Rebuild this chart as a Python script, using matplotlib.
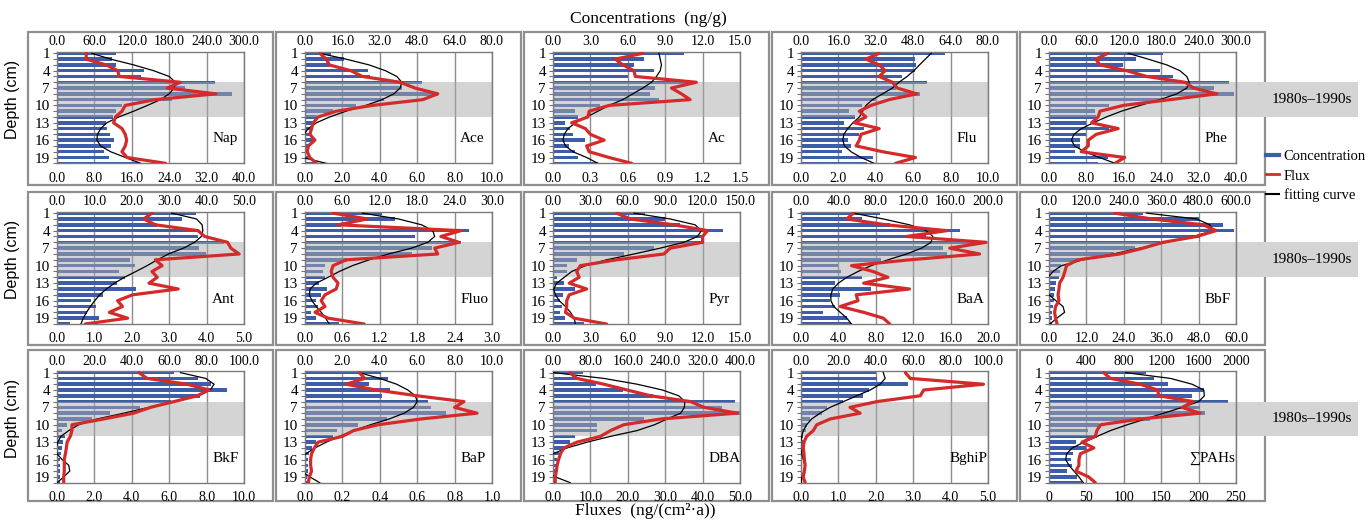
import numpy as np
import matplotlib
matplotlib.use('Agg')
from matplotlib import pyplot as plt
from matplotlib.lines import Line2D
from matplotlib.patches import Rectangle
from matplotlib.ticker import FormatStrFormatter
from matplotlib.transforms import blended_transform_factory

plt.rcParams['font.family'] = ['Liberation Serif', 'DejaVu Serif']

depth = np.arange(1, 21)

names = ['Nap', 'Ace', 'Ac', 'Flu', 'Phe', 'Ant', 'Fluo', 'Pyr', 'BaA', 'BbF',
         'BkF', 'BaP', 'DBA', 'BghiP', '∑PAHs']
conc_max = [300, 80, 15, 80, 300, 50, 30, 150, 200, 600, 100, 10, 400, 100, 2000]
flux_max = [40, 10, 1.5, 10, 40, 5, 3, 15, 20, 60, 10, 1, 50, 5, 250]

# concentration (ng/g), fitting curve (ng/g), flux (ng/(cm2 a)) for depth 1..20 cm
nap_conc = [95, 89, 95, 140, 135, 254, 205, 281, 185, 104, 95, 90, 78, 80, 85, 91, 87, 76, 83, 133]
nap_fit = [56, 86, 123, 155, 180, 190, 188, 180, 166, 145, 123, 99, 80, 70, 65, 64, 70, 86, 110, 134]
nap_flux = [6.3, 6.2, 10.5, 13.0, 13.3, 26.4, 23.6, 34.0, 21.0, 14.6, 13.9, 12.5, 12.1, 13.9, 14.6, 14.9, 14.6, 13.9, 15.0, 23.2]

ace_conc = [11.2, 16.8, 10.5, 27.1, 27.7, 50.1, 41.4, 57.1, 34.0, 22.0, 12.0, 5.3, 2.8, 2.8, 1.8, 3.5, 1.4, 1.4, 1.4, 4.2]
ace_fit = [6.3, 17.5, 27.4, 34.4, 39.3, 41.4, 40.7, 38.0, 33.0, 26.0, 17.5, 10.5, 4.9, 1.4, -0.5, -3.0, -3.5, -2.5, -1.0, 9.0]
ace_flux = [0.79, 1.14, 1.3, 2.45, 3.07, 5.09, 5.88, 7.1, 6.3, 3.6, 1.67, 0.7, 0.44, 0.35, 0.26, 0.53, 0.18, 0.12, 0.26, 0.61]

ac_conc = [10.5, 7.3, 6.5, 8.1, 6.0, 11.4, 8.2, 7.8, 8.5, 3.8, 1.8, 2.0, 1.0, 1.4, 1.6, 2.6, 1.3, 1.8, 2.0, 3.6]
ac_fit = [8.5, 8.6, 8.7, 8.6, 8.3, 7.9, 7.2, 6.4, 5.6, 4.5, 3.6, 2.7, 1.8, 1.2, 0.9, 0.8, 1.0, 1.6, 2.7, 3.6]
ac_flux = [0.72, 0.5, 0.56, 0.65, 0.66, 1.15, 0.95, 1.03, 1.1, 0.45, 0.29, 0.28, 0.15, 0.26, 0.3, 0.41, 0.27, 0.29, 0.45, 0.63]

flu_conc = [61.7, 48.7, 49.2, 48.7, 43.0, 53.9, 40.5, 50.8, 32.0, 26.1, 20.5, 22.9, 18.3, 27.1, 25.0, 20.0, 21.4, 17.5, 30.6, 28.1]
flu_fit = [55.7, 53.2, 50.7, 48.3, 45.4, 41.9, 39.1, 34.9, 30.6, 27.8, 26.4, 25.0, 22.2, 20.0, 18.3, 17.9, 18.6, 21.4, 25.7, 31.3]
flu_flux = [4.18, 3.47, 4.18, 4.5, 4.18, 4.89, 5.15, 6.2, 4.71, 3.74, 3.12, 3.47, 2.86, 4.18, 3.21, 3.12, 2.95, 4.36, 6.12, 5.06]

phe_conc = [183, 139, 118, 178, 199, 288, 264, 297, 183, 97, 73, 76, 59, 97, 60, 49, 49, 41, 94, 79]
phe_fit = [127, 159, 189, 210, 221, 225, 221, 205, 178, 146, 116, 92, 71, 52, 40, 36, 41, 57, 81, 106]
phe_flux = [12.6, 10.0, 10.9, 16.6, 20.9, 29.1, 30.9, 35.9, 25.9, 15.9, 10.9, 10.5, 9.1, 14.8, 10.1, 8.4, 8.4, 6.9, 16.2, 14.1]

ant_conc = [37.1, 33.3, 26.8, 37.9, 37.7, 44.7, 37.9, 39.9, 19.5, 20.8, 16.7, 18.2, 16.0, 21.1, 12.3, 9.2, 10.5, 7.9, 11.1, 3.5]
ant_fit = [30.7, 37.3, 38.8, 39.0, 38.6, 36.8, 33.8, 29.8, 26.8, 24.1, 21.1, 18.0, 15.4, 13.2, 11.4, 10.1, 8.9, 7.9, 7.0, 6.4]
ant_flux = [2.54, 2.32, 2.63, 3.77, 3.95, 4.56, 4.65, 4.87, 2.63, 2.81, 2.54, 2.68, 2.46, 3.24, 2.02, 1.62, 1.75, 1.40, 1.89, 0.75]

fluo_conc = [12.3, 14.5, 5.8, 26.3, 17.6, 25.0, 20.3, 17.1, 6.8, 3.2, 2.9, 3.2, 2.2, 3.6, 2.5, 1.7, 2.1, 0.9, 1.8, 5.5]
fluo_fit = [9.2, 15.0, 18.7, 20.5, 20.8, 19.7, 17.1, 13.4, 10.3, 7.6, 5.5, 3.7, 1.8, 0.8, 0.7, 1.1, 1.8, 2.6, 3.3, 3.9]
fluo_flux = [0.45, 1.0, 0.53, 2.5, 2.18, 2.47, 2.08, 2.13, 0.66, 0.45, 0.42, 0.45, 0.53, 0.5, 0.32, 0.26, 0.32, 0.16, 0.37, 0.95]

pyr_conc = [74, 90, 102, 136, 121, 121, 81, 57, 19, 11, 11, 3, 9, 18, 8, 6, 7, 6, 10, 25]
pyr_fit = [65, 94, 114, 119, 116, 105, 86, 65, 43, 26, 15, 9, 3, 0.5, 2, 5, 10, 14, 17, 18]
pyr_flux = [5.1, 6.2, 9.7, 12.4, 12.0, 12.0, 9.4, 8.9, 5.1, 2.2, 1.9, 2.1, 1.3, 2.7, 1.3, 1.1, 1.1, 1.0, 1.7, 4.3]

baa_conc = [85, 65, 95, 170, 134, 198, 152, 156, 86, 40, 43, 65, 36, 75, 42, 31, 36, 23, 49, 54]
baa_fit = [56, 88, 116, 134, 141, 139, 129, 113, 93, 75, 61, 49, 40, 34, 32, 32, 35, 42, 49, 54]
baa_flux = [5.6, 4.9, 9.1, 15.6, 11.3, 19.8, 15.9, 19.1, 11.6, 5.4, 7.7, 9.3, 6.7, 11.6, 5.9, 6.1, 4.2, 6.7, 8.8, 9.5]

bbf_conc = [302, 480, 559, 595, 484, 356, 275, 209, 93, 40, 34, 32, 21, 18, 15, 15, 13, 11, 11, 11]
bbf_fit = [313, 474, 516, 527, 463, 377, 291, 206, 109, 40, 13, -3, -15, -10, 0, 22, 45, 50, 25, 3]
bbf_flux = [21.1, 33.0, 49.5, 53.6, 47.4, 36.6, 30.2, 22.7, 9.3, 5.6, 5.1, 4.5, 3.4, 3.2, 2.9, 3.2, 2.1, 1.8, 2.1, 2.6]

bkf_conc = [62.5, 75.4, 82.5, 91.1, 76.4, 60.7, 44.6, 28.6, 18.8, 5.4, 2.7, 4.5, 3.2, 2.7, 2.3, 1.8, 1.8, 1.4, 1.4, 1.4]
bkf_fit = [66, 79.5, 84, 82, 75, 62.5, 49, 35.7, 21.4, 11.6, 6.3, 2.1, 0.4, -0.4, 0, 2.7, 6.3, 6.8, 3.6, 0]
bkf_flux = [4.38, 4.82, 6.96, 8.13, 7.5, 6.25, 5.0, 4.1, 2.5, 0.8, 0.8, 0.71, 0.54, 0.5, 0.45, 0.39, 0.39, 0.39, 0.36, 0.36]

bap_conc = [4.07, 4.44, 3.4, 4.56, 4.1, 6.6, 6.75, 7.54, 4.4, 2.86, 1.72, 1.49, 0.58, 0.39, 0.23, 0.18, 0.18, 0.18, 0.12, 0.09]
bap_fit = [2.9, 4.0, 4.9, 5.5, 5.9, 6.0, 5.8, 5.3, 4.5, 3.5, 2.6, 1.84, 1.14, 0.53, 0.05, -0.3, -0.4, -0.2, 0.26, 0.79]
bap_flux = [0.29, 0.32, 0.22, 0.38, 0.6, 0.85, 0.8, 0.92, 0.62, 0.39, 0.26, 0.2, 0.07, 0.05, 0.035, 0.03, 0.03, 0.035, 0.023, 0.018]

dba_conc = [64, 55, 93, 149, 214, 389, 362, 400, 194, 94, 94, 46, 37, 24, 12, 9, 9, 7, 5, 4]
dba_fit = [1, 109, 180, 234, 269, 282, 281, 273, 244, 217, 180, 123, 73, 30, 0, -13, -20, -13, 5, 37]
dba_flux = [4.5, 6.4, 13.6, 19.8, 26.1, 36.8, 40.4, 49.3, 28.8, 18.9, 15.4, 12.7, 6.4, 2.9, 2.0, 1.5, 1.1, 0.9, 0.6, 0.6]

bghip_conc = [40.2, 40.5, 57.1, 36.6, 33.4, 22.7, 14.1, 11.1, 4.8, 3.0, 2.7, 1.25, 0.9, 0.5, 0.4, 0.4, 0.4, 0.4, 0.4, 0.4]
bghip_fit = [44, 45, 42.3, 37, 29.8, 22.7, 15.5, 10.2, 5.7, 3.0, 1.25, 0.4, -0.2, -0.2, 0.4, 1.25, 2.1, 1.6, 0.5, 0]
bghip_flux = [2.79, 2.92, 4.88, 3.28, 3.19, 2.03, 1.31, 1.58, 0.78, 0.42, 0.33, 0.15, 0.08, 0.06, 0.08, 0.09, 0.11, 0.09, 0.06, 0.11]

pahs_conc = [1039, 1128, 1274, 1662, 1530, 1911, 1619, 1673, 1085, 534, 416, 516, 285, 391, 260, 238, 242, 196, 302, 356]
pahs_fit = [819, 1299, 1530, 1655, 1662, 1602, 1424, 1228, 1032, 836, 658, 516, 374, 249, 189, 178, 214, 267, 320, 367]
pahs_flux = [73, 82, 122, 145, 147, 193, 178, 202, 122, 69, 64, 62, 44, 60, 42, 40, 40, 36, 53, 62]

conc_all = [nap_conc, ace_conc, ac_conc, flu_conc, phe_conc, ant_conc, fluo_conc, pyr_conc,
            baa_conc, bbf_conc, bkf_conc, bap_conc, dba_conc, bghip_conc, pahs_conc]
fit_all = [nap_fit, ace_fit, ac_fit, flu_fit, phe_fit, ant_fit, fluo_fit, pyr_fit,
           baa_fit, bbf_fit, bkf_fit, bap_fit, dba_fit, bghip_fit, pahs_fit]
flux_all = [nap_flux, ace_flux, ac_flux, flu_flux, phe_flux, ant_flux, fluo_flux, pyr_flux,
            baa_flux, bbf_flux, bkf_flux, bap_flux, dba_flux, bghip_flux, pahs_flux]

band = (6, 12)  # 1980s-1990s layer

blueColor = '#3d5dab'
redColor = '#d42a2a'
gridColor = '#8c8c8c'
frameColor = '#8f8f8f'

W, H = 1370, 520
fig = plt.figure(figsize=(W / 100, H / 100), dpi=100)

colLeft = [57, 305, 553, 801, 1049]
axW = 187
rowSpan = [(51.7, 163.3), (211.5, 324.0), (371.0, 482.7)]
frameSpan = [(32, 185), (192, 345), (350, 501)]

for r in range(3):
    for c in range(5):
        x0 = colLeft[c] - 29
        top, bot = frameSpan[r]
        fig.patches.append(Rectangle((x0 / W, 1 - bot / H), (axW + 58) / W, (bot - top) / H,
                                     transform=fig.transFigure, fill=False, ec=frameColor,
                                     lw=1.6, zorder=-1))

for i, name in enumerate(names):
    r, c = divmod(i, 5)
    top, bot = rowSpan[r]
    ax = fig.add_axes([colLeft[c] / W, 1 - bot / H, axW / W, (bot - top) / H])

    ax.barh(depth, conc_all[i], height=0.6, color=blueColor, zorder=2)
    ax.axhspan(band[0], band[1], color='#aaaaaa', alpha=0.5, lw=0, zorder=2.5)
    ax.plot(fit_all[i], depth, color='k', lw=0.9, zorder=3)
    ax.set_xlim(0, conc_max[i])
    ax.set_ylim(20, 0.72)
    ax.grid(axis='x', color=gridColor, lw=1.0)
    ax.set_axisbelow(True)
    ax.set_yticks(np.arange(1, 20, 3))
    ax.set_yticks(depth, minor=True)
    ax.tick_params(axis='y', which='both', length=3, width=0.8, color='#707070',
                   pad=2, labelsize=11)

    # fluxes on the bottom axis
    ax2 = ax.twiny()
    ax2.plot(flux_all[i], depth, color=redColor, lw=2.3, zorder=4,
             solid_joinstyle='round', solid_capstyle='round')
    ax2.set_xlim(0, flux_max[i])
    ax2.set_xticks(np.linspace(0, flux_max[i], 6))
    ax2.xaxis.tick_bottom()
    ax2.tick_params(axis='x', length=0, pad=6, labelsize=10)

    # concentrations on the top axis
    ax.xaxis.tick_top()
    ax.set_xticks(np.linspace(0, conc_max[i], 6))
    ax.tick_params(axis='x', length=0, pad=2.5, labelsize=10)

    if name == '∑PAHs':
        ax.xaxis.set_major_formatter(FormatStrFormatter('%d'))
        ax2.xaxis.set_major_formatter(FormatStrFormatter('%d'))
    else:
        ax.xaxis.set_major_formatter(FormatStrFormatter('%.1f'))
        ax2.xaxis.set_major_formatter(FormatStrFormatter('%.1f'))

    for sp in ax.spines.values():
        sp.set_color('#7a7a7a')
        sp.set_linewidth(1.0)
    for sp in ax2.spines.values():
        sp.set_visible(False)

    nameTrans = blended_transform_factory(ax.transAxes, ax.transData)
    if len(name) >= 5:
        ax.text(0.997, 15.8, name, transform=nameTrans, ha='right', va='center',
                fontsize=11, zorder=5)
    else:
        ax.text(0.83, 15.8, name, transform=nameTrans, ha='left', va='center',
                fontsize=11, zorder=5)

    if c == 4:
        trans = blended_transform_factory(fig.transFigure, ax.transData)
        xr = (colLeft[c] + axW) / W
        ax.add_patch(Rectangle((xr, band[0]), 1358 / W - xr, band[1] - band[0],
                               transform=trans, color='#d4d4d4', lw=0, clip_on=False, zorder=1))
        ax.text(1312 / W, (band[0] + band[1]) / 2, '1980s–1990s', transform=trans,
                ha='center', va='center', fontsize=11, clip_on=False)

    if c == 0:
        fig.text(12 / W, 1 - ((top + bot) / 2 - 8) / H, 'Depth (cm)', rotation=90,
                 ha='center', va='center', fontsize=11.5,
                 family=['Liberation Sans', 'DejaVu Sans'])

fig.text(648 / W, 1 - 19 / H, 'Concentrations  (ng/g)', ha='center', va='center', fontsize=12.5)
fig.text(645 / W, 1 - 511 / H, 'Fluxes  (ng/(cm²·a))', ha='center', va='center', fontsize=12.5)

handles = [Line2D([], [], color=blueColor, lw=3),
           Line2D([], [], color=redColor, lw=2),
           Line2D([], [], color='k', lw=1.5)]
fig.legend(handles, ['Concentration', 'Flux', 'fitting curve'], loc='upper left',
           bbox_to_anchor=(1266 / W, 1 - 150 / H), frameon=False, fontsize=10.5,
           handlelength=0.9, handletextpad=0.3, labelspacing=0.42, borderpad=0,
           borderaxespad=0)

fig.savefig('out.png', dpi=100)
